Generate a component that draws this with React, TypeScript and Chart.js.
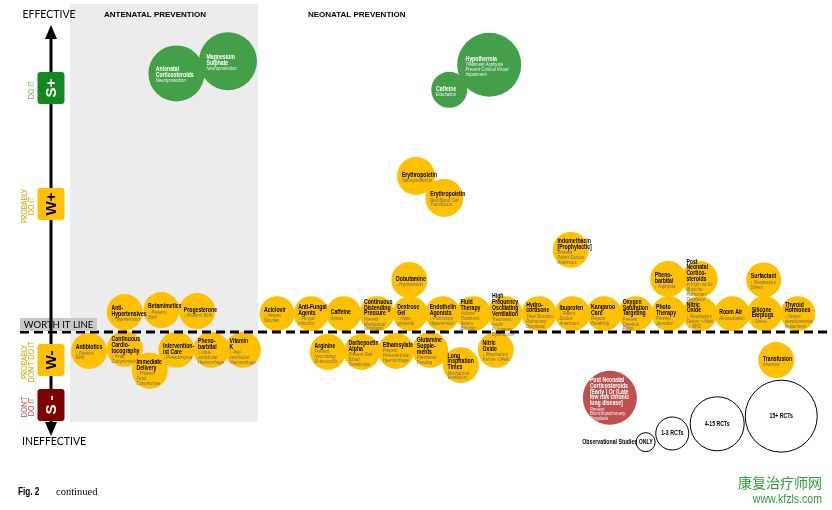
import { useEffect, useRef } from "react";
import { Chart, registerables } from "chart.js";
Chart.register(...registerables);

const W = 832;
const H = 510;

// ---- Data: interventions (title lines separated by "|") ----
const names = [
  "Antenatal|Corticosteroids", "Magnesium|Sulphate", "Hypothermia", "Caffeine",
  "Erythropoietin", "Erythropoietin", "Indomethacin|[Prophylactic]", "Dobutamine",
  "Pheno-|barbital", "Post|Neonatal|Cortico-|steroids", "Surfactant",
  "Anti-|Hypertensives", "Betamimetics", "Progesterone",
  "Aciclovir", "Anti-Fungal|Agents", "Caffeine", "Continuous|Distending|Pressure",
  "Dextrose|Gel", "Endothelin|Agonists", "Fluid|Therapy", "High|Frequency|Oscillating|Ventilation",
  "Hydro-|cortisone", "Ibuprofen", "Kangaroo|Care", "Oxygen|Saturation|Targeting",
  "Photo|Therapy", "Nitric|Oxide", "Room Air", "Silicone|Earplugs", "Thyroid|Hormones",
  "Antibiotics", "Continuous|Cardio-|tocography", "Immediate|Delivery", "Intervention-|ist Care",
  "Pheno-|barbital", "Vitamin|K",
  "Arginine", "Darbepoetin|Alpha", "Ethamsylate", "Glutamine|Supple-|ments",
  "Long|Inspiration|Times", "Nitric|Oxide", "Transfusion",
  "Post Neonatal|Corticosteroids|[Early ] Or [Late|low risk chronic|lung disease]",
];
const outcomes = [
  "Neuroprotection", "Neuroprotection", "Treatment Asphyxia|Prevent Cortical Visual|Impairment", "Extubation",
  "Neuroprotection", "Red Blood Cell|Transfusion", "Prevent|Patent Ductus|Arteriosus", "↓ Hypotension",
  "↓ Asphyxia", "In high risk for|Broncho-|Pulmonary|Dysplasia", "↓ Respiratory|Stress",
  "↓ Hypertension", "↓ Preterm|Birth", "↓ Preterm Birth",
  "↓ Herpes|Simplex", "↓ Fungal|Infection", "Apnea", "Prevent|Mechanical|Ventilation",
  "↓ Hypo-|glycemia", "↓ Pulmonary|Hypertension", "Volume|Treatment|Serum|Bilirubin", "Treatment|Acute|Pulmonary|Dysfunction",
  "Treat Broncho-|Pulmonary|Dysplasia", "↓ Patent|Ductus|Arteriosus", "Regular|Breathing", "Prevent|Cerebral|Palsy",
  "Prevent|Jaundice", "↓ Respiratory|Failure >34wk|→ BPD", "Resuscitation", "↓ Stress", "↓ Neuro-|developmental|Impairment",
  "↓ Preterm|Birth", "↓ Fetal|Compromise", "↓ Preterm|Fetal|Compromise", "↓ Preeclampsia",
  "↓ Intra-|ventricular|Haemorrhage", "↓ Peri-|ventricular|Haemorrhage",
  "Prevent|Necrotizing|Enterocolitis", "Prevent Red|Blood|Transfusion", "Prevent|Periventricular|Haemorrhage", "Parenteral|Feeding",
  "Mechanical|Ventilation", "↓ Respiratory|Failure <34wk", "Anaemia",
  "Prevent|Bronchopulmonary|Dysplasia",
];
// horizontal placement (0-100)
const position = [
  21.2, 27.4, 58.8, 54.0,
  50.0, 53.4, 68.6, 49.2,
  80.3, 84.1, 91.8,
  15.0, 19.4, 23.7,
  33.3, 37.4, 41.3, 45.3,
  49.3, 53.2, 56.9, 60.7,
  64.8, 68.8, 72.6, 76.4,
  80.4, 84.1, 88.0, 91.9, 95.9,
  10.7, 15.0, 18.0, 21.2,
  25.4, 29.2,
  39.4, 43.5, 47.6, 51.7,
  55.4, 59.6, 93.3,
  73.3,
];
// effectiveness rating (0-100)
const rating = [
  85.6, 88.0, 87.3, 82.4,
  65.5, 61.2, 51.0, 45.1,
  45.3, 45.3, 45.1,
  38.8, 39.2, 39.0,
  38.5, 38.5, 38.5, 38.5,
  38.5, 38.5, 38.5, 38.5,
  38.5, 38.5, 38.5, 38.5,
  38.5, 38.5, 38.5, 38.5, 38.5,
  31.2, 31.6, 27.3, 31.4,
  31.4, 31.4,
  31.0, 31.0, 31.2, 31.4,
  28.4, 31.4, 29.4,
  22.0,
];
// bubble size (evidence base)
const evidence = [
  28, 29, 32, 18,
  19, 19, 18, 18,
  18, 18, 17.5,
  18, 18, 18,
  17.5, 17.5, 17.5, 17.5,
  17.5, 17.5, 17.5, 17.5,
  17.5, 17.5, 17.5, 17.5,
  17.5, 17.5, 17.5, 17.5, 17.5,
  18, 18, 18, 18,
  18, 18,
  18, 18, 18, 18,
  18, 18, 18,
  27,
];
const grade = [
  "S+", "S+", "S+", "S+",
  "W", "W", "W", "W", "W", "W", "W",
  "W", "W", "W",
  "W", "W", "W", "W", "W", "W", "W", "W", "W", "W", "W", "W", "W", "W", "W", "W", "W",
  "W", "W", "W", "W", "W", "W",
  "W", "W", "W", "W", "W", "W", "W",
  "S-",
];

// ---- Legend (evidence size key) ----
const legendLabels = ["Observational Studies ONLY", "1-3 RCTs", "4-15 RCTs", "15+ RCTs"];
const legendPosition = [77.6, 80.8, 86.2, 93.9];
const legendRating = [13.3, 15.0, 16.9, 18.4];
const legendSize = [9.5, 16.5, 27, 36];

const WORTH_IT = 34.9;

const ARIAL = '"Liberation Sans", Arial, sans-serif';
const SANS = 'Lato, "Open Sans", "Liberation Sans", sans-serif';

const GREEN = "#43a048";
const YELLOW = "#ffc000";
const RED = "#c0504d";

function pts(g: string) {
  const out: any[] = [];
  names.forEach((n, i) => {
    if (grade[i] === g) out.push({ x: position[i], y: rating[i], r: evidence[i], title: n, sub: outcomes[i] });
  });
  return out;
}

// draw horizontally condensed text (Arial Narrow look)
function narrow(ctx: CanvasRenderingContext2D, text: string, x: number, y: number, k = 0.8) {
  ctx.save();
  ctx.translate(x, y);
  ctx.scale(k, 1);
  ctx.fillText(text, 0, 0);
  ctx.restore();
}

function roundRect(ctx: CanvasRenderingContext2D, x: number, y: number, w: number, h: number, rad: number) {
  ctx.beginPath();
  ctx.moveTo(x + rad, y);
  ctx.lineTo(x + w - rad, y);
  ctx.quadraticCurveTo(x + w, y, x + w, y + rad);
  ctx.lineTo(x + w, y + h - rad);
  ctx.quadraticCurveTo(x + w, y + h, x + w - rad, y + h);
  ctx.lineTo(x + rad, y + h);
  ctx.quadraticCurveTo(x, y + h, x, y + h - rad);
  ctx.lineTo(x, y + rad);
  ctx.quadraticCurveTo(x, y, x + rad, y);
  ctx.closePath();
}

const decor = {
  id: "decor",
  beforeDatasetsDraw(chart: any) {
    const ctx: CanvasRenderingContext2D = chart.ctx;
    ctx.save();
    ctx.fillStyle = "#ececec";
    ctx.fillRect(70, 4, 188, 418);
    ctx.fillStyle = "#000";
    ctx.font = `bold 8px ${ARIAL}`;
    ctx.textBaseline = "middle";
    ctx.textAlign = "left";
    ctx.fillText("ANTENATAL PREVENTION", 104, 15);
    ctx.fillText("NEONATAL PREVENTION", 308, 15);
    ctx.restore();
  },
  afterDatasetsDraw(chart: any) {
    const ctx: CanvasRenderingContext2D = chart.ctx;
    const ys = chart.scales.y;
    ctx.save();

    // bubble labels
    chart.data.datasets.forEach((ds: any, di: number) => {
      const meta = chart.getDatasetMeta(di);
      meta.data.forEach((el: any, i: number) => {
        const d = ds.data[i];
        const r = el.options.radius;
        if (ds.kind === "legend") {
          ctx.fillStyle = "#000";
          ctx.font = `bold 6.5px ${ARIAL}`;
          ctx.textBaseline = "middle";
          ctx.textAlign = "left";
          const w = ctx.measureText(d.title).width * 0.8;
          if (i === 0) narrow(ctx, d.title, el.x + 7 - w, el.y);
          else narrow(ctx, d.title, el.x - w / 2, el.y);
          return;
        }
        const tl = d.title.split("|");
        const sl = d.sub ? d.sub.split("|") : [];
        const th = 5.8, sh = 4.9;
        const total = tl.length * th + sl.length * sh;
        let yy = el.y - total / 2 + 1;
        const x0 = el.x - r * 0.74;
        ctx.textAlign = "left";
        ctx.textBaseline = "top";
        ctx.fillStyle = ds.kind === "yellow" ? "#000" : "#fff";
        ctx.font = `bold 6.6px ${ARIAL}`;
        for (const l of tl) { narrow(ctx, l, x0, yy, 0.78); yy += th; }
        ctx.fillStyle = ds.kind === "yellow" ? "#6a6a6a" : "#f2f2f2";
        ctx.font = `italic 5.3px ${ARIAL}`;
        for (const l of sl) { narrow(ctx, l, x0, yy + 0.5, 0.8); yy += sh; }
      });
    });

    // worth it line
    const wy = ys.getPixelForValue(WORTH_IT);
    ctx.strokeStyle = "#000";
    ctx.lineWidth = 3;
    ctx.setLineDash([9, 5]);
    ctx.beginPath();
    ctx.moveTo(20, wy);
    ctx.lineTo(W, wy);
    ctx.stroke();
    ctx.setLineDash([]);
    ctx.fillStyle = "#c9c9c9";
    ctx.fillRect(20, wy - 14, 77, 13);
    ctx.fillStyle = "#000";
    ctx.font = `9.5px ${SANS}`;
    ctx.textAlign = "center";
    ctx.textBaseline = "middle";
    ctx.fillText("WORTH IT LINE", 58.5, wy - 7);

    // vertical axis with arrows
    const ax = 51;
    ctx.lineWidth = 3;
    ctx.beginPath();
    ctx.moveTo(ax, 36);
    ctx.lineTo(ax, 425);
    ctx.stroke();
    ctx.fillStyle = "#000";
    ctx.beginPath();
    ctx.moveTo(ax, 25); ctx.lineTo(ax - 6, 39); ctx.lineTo(ax + 6, 39); ctx.closePath(); ctx.fill();
    ctx.beginPath();
    ctx.moveTo(ax, 436); ctx.lineTo(ax - 6, 422); ctx.lineTo(ax + 6, 422); ctx.closePath(); ctx.fill();

    ctx.font = `10.5px ${SANS}`;
    ctx.textAlign = "center";
    ctx.fillText("EFFECTIVE", 49, 15);
    ctx.fillText("INEFFECTIVE", 54, 442);

    // badges
    const badges = [
      { t: "S+", y: 88, bg: "#12891f", fg: "#fff", side: ["DO IT"], sc: "#5cb85c" },
      { t: "W+", y: 204, bg: YELLOW, fg: "#000", side: ["PROBABLY", "DO IT"], sc: "#d4a800" },
      { t: "W-", y: 360, bg: YELLOW, fg: "#000", side: ["PROBABLY", "DON'T DO IT"], sc: "#d4a800" },
      { t: "S -", y: 405, bg: "#7f0000", fg: "#fff", side: ["DON'T", "DO IT"], sc: "#c0504d" },
    ];
    for (const b of badges) {
      ctx.fillStyle = b.bg;
      roundRect(ctx, ax - 13.5, b.y - 16, 27, 32, 3);
      ctx.fill();
      ctx.save();
      ctx.translate(ax, b.y);
      ctx.rotate(-Math.PI / 2);
      ctx.fillStyle = b.fg;
      ctx.font = `bold 15px ${ARIAL}`;
      ctx.textAlign = "center";
      ctx.textBaseline = "middle";
      ctx.fillText(b.t, 0, 1);
      ctx.restore();
      ctx.save();
      ctx.translate(b.side.length === 1 ? 32 : 28.5, b.y + 2);
      ctx.rotate(-Math.PI / 2);
      ctx.fillStyle = b.sc;
      ctx.font = `6.8px ${SANS}`;
      ctx.textAlign = "center";
      ctx.textBaseline = "middle";
      b.side.forEach((s, k) => ctx.fillText(s, 0, (k - (b.side.length - 1) / 2) * 7));
      ctx.restore();
    }

    // footer
    ctx.fillStyle = "#000";
    ctx.textAlign = "left";
    ctx.textBaseline = "middle";
    ctx.font = `bold 10px ${ARIAL}`;
    narrow(ctx, "Fig. 2", 18, 492, 0.82);
    ctx.font = `10.5px "Liberation Serif", serif`;
    ctx.fillText("continued", 56, 492);

    // watermark
    ctx.fillStyle = "#2e9e3a";
    ctx.textAlign = "right";
    ctx.font = `14px "Noto Sans CJK SC", sans-serif`;
    ctx.fillText("康复治疗师网", 822, 483);
    ctx.textAlign = "left";
    ctx.font = `12px ${ARIAL}`;
    const ww = ctx.measureText("www.kfzls.com").width * 0.88;
    narrow(ctx, "www.kfzls.com", 822 - ww, 500, 0.88);

    ctx.restore();
  },
};

export default function App() {
  const ref = useRef<HTMLCanvasElement>(null);
  useEffect(() => {
    const legendData = legendLabels.map((l, i) => ({ x: legendPosition[i], y: legendRating[i], r: legendSize[i], title: l }));
    const chart = new Chart(ref.current as HTMLCanvasElement, {
      type: "bubble",
      data: {
        datasets: [
          { kind: "legend", data: legendData, backgroundColor: "#fff", borderColor: "#000", borderWidth: 1, clip: false } as any,
          { kind: "yellow", data: pts("W"), backgroundColor: YELLOW, borderWidth: 0, clip: false } as any,
          { kind: "green", data: pts("S+"), backgroundColor: GREEN, borderWidth: 0, clip: false } as any,
          { kind: "red", data: pts("S-"), backgroundColor: RED, borderWidth: 0, clip: false } as any,
        ],
      },
      options: {
        responsive: false,
        animation: false,
        devicePixelRatio: 1,
        events: [],
        layout: { padding: 0, autoPadding: false },
        plugins: { legend: { display: false }, tooltip: { enabled: false } },
        scales: {
          x: { type: "linear", display: false, min: 0, max: 100 },
          y: { type: "linear", display: false, min: 0, max: 100 },
        },
      },
      plugins: [decor],
    });
    return () => chart.destroy();
  }, []);
  return (
    <div style={{ position: "fixed", left: 0, top: 0, width: W, height: H, background: "#fff" }}>
      <canvas ref={ref} width={W} height={H} style={{ width: W, height: H, display: "block" }} />
    </div>
  );
}
